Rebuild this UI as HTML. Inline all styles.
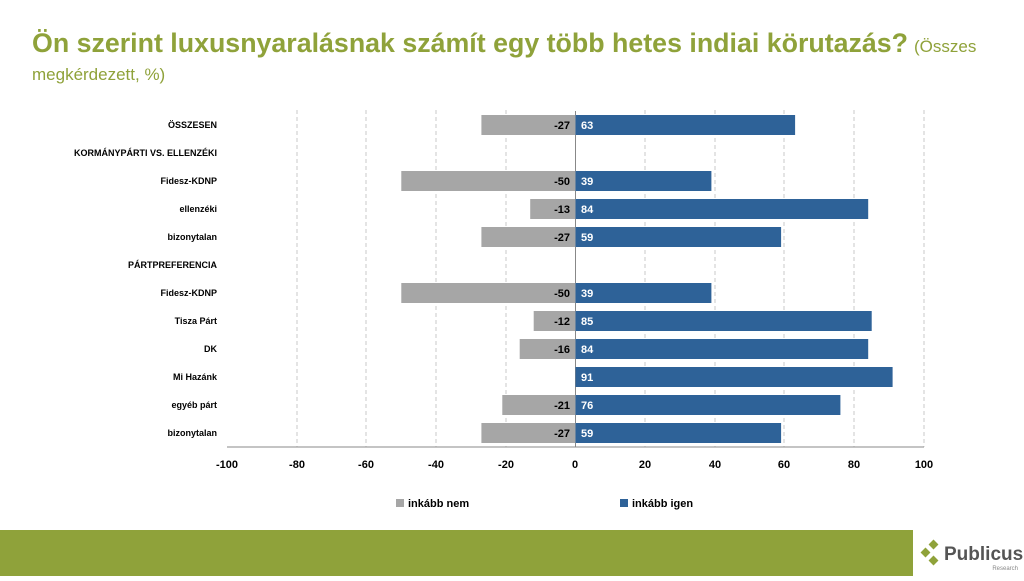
<!DOCTYPE html><html><head><meta charset="utf-8"><style>
body{margin:0;width:1024px;height:576px;background:#fff;overflow:hidden;font-family:"Liberation Sans",sans-serif}
</style></head><body>
<svg width="1024" height="576" xmlns="http://www.w3.org/2000/svg" font-family="Liberation Sans, sans-serif">
<text x="32" y="52" font-size="27" font-weight="bold" fill="#8fa23a" textLength="876" lengthAdjust="spacingAndGlyphs">Ön szerint luxusnyaralásnak számít egy több hetes indiai körutazás?</text>
<text x="914" y="52" font-size="17" fill="#8fa23a">(Összes</text>
<text x="32" y="80" font-size="17" fill="#8fa23a">megkérdezett, %)</text>
<g stroke="#c8c8c8" stroke-dasharray="4,3" stroke-width="1">
<line x1="297" y1="110" x2="297" y2="447"/><line x1="366" y1="110" x2="366" y2="447"/><line x1="436" y1="110" x2="436" y2="447"/><line x1="506" y1="110" x2="506" y2="447"/><line x1="645" y1="110" x2="645" y2="447"/><line x1="715" y1="110" x2="715" y2="447"/><line x1="784" y1="110" x2="784" y2="447"/><line x1="854" y1="110" x2="854" y2="447"/><line x1="924" y1="110" x2="924" y2="447"/>
</g>
<g id="bars"></g>
<line x1="575.5" y1="111" x2="575.5" y2="447" stroke="#888"/>
<line x1="227" y1="447" x2="924" y2="447" stroke="#888"/>
<g font-size="11" font-weight="bold" fill="#000" text-anchor="middle">
<text x="227" y="468">-100</text><text x="297" y="468">-80</text><text x="366" y="468">-60</text><text x="436" y="468">-40</text><text x="506" y="468">-20</text><text x="575" y="468">0</text><text x="645" y="468">20</text><text x="715" y="468">40</text><text x="784" y="468">60</text><text x="854" y="468">80</text><text x="924" y="468">100</text>
</g>
<g font-size="9" font-weight="bold" fill="#000" text-anchor="end">
<text x="217" y="128">ÖSSZESEN</text><text x="217" y="156">KORMÁNYPÁRTI VS. ELLENZÉKI</text><text x="217" y="184">Fidesz-KDNP</text><text x="217" y="212">ellenzéki</text><text x="217" y="240">bizonytalan</text><text x="217" y="268">PÁRTPREFERENCIA</text><text x="217" y="296">Fidesz-KDNP</text><text x="217" y="324">Tisza Párt</text><text x="217" y="352">DK</text><text x="217" y="380">Mi Hazánk</text><text x="217" y="408">egyéb párt</text><text x="217" y="436">bizonytalan</text>
</g>
<g font-size="11" font-weight="bold">
<rect x="481.4" y="115" width="94.1" height="20" fill="#a6a6a6"/><rect x="575.5" y="115" width="219.6" height="20" fill="#2e6298"/><text x="570" y="129" text-anchor="end">-27</text><text x="581" y="129" fill="#fff">63</text>
<rect x="401.3" y="171" width="174.2" height="20" fill="#a6a6a6"/><rect x="575.5" y="171" width="135.9" height="20" fill="#2e6298"/><text x="570" y="185" text-anchor="end">-50</text><text x="581" y="185" fill="#fff">39</text>
<rect x="530.2" y="199" width="45.3" height="20" fill="#a6a6a6"/><rect x="575.5" y="199" width="292.7" height="20" fill="#2e6298"/><text x="570" y="213" text-anchor="end">-13</text><text x="581" y="213" fill="#fff">84</text>
<rect x="481.4" y="227" width="94.1" height="20" fill="#a6a6a6"/><rect x="575.5" y="227" width="205.6" height="20" fill="#2e6298"/><text x="570" y="241" text-anchor="end">-27</text><text x="581" y="241" fill="#fff">59</text>
<rect x="401.3" y="283" width="174.2" height="20" fill="#a6a6a6"/><rect x="575.5" y="283" width="135.9" height="20" fill="#2e6298"/><text x="570" y="297" text-anchor="end">-50</text><text x="581" y="297" fill="#fff">39</text>
<rect x="533.7" y="311" width="41.8" height="20" fill="#a6a6a6"/><rect x="575.5" y="311" width="296.2" height="20" fill="#2e6298"/><text x="570" y="325" text-anchor="end">-12</text><text x="581" y="325" fill="#fff">85</text>
<rect x="519.7" y="339" width="55.8" height="20" fill="#a6a6a6"/><rect x="575.5" y="339" width="292.7" height="20" fill="#2e6298"/><text x="570" y="353" text-anchor="end">-16</text><text x="581" y="353" fill="#fff">84</text>
<rect x="575.5" y="367" width="317.1" height="20" fill="#2e6298"/><text x="581" y="381" fill="#fff">91</text>
<rect x="502.3" y="395" width="73.2" height="20" fill="#a6a6a6"/><rect x="575.5" y="395" width="264.9" height="20" fill="#2e6298"/><text x="570" y="409" text-anchor="end">-21</text><text x="581" y="409" fill="#fff">76</text>
<rect x="481.4" y="423" width="94.1" height="20" fill="#a6a6a6"/><rect x="575.5" y="423" width="205.6" height="20" fill="#2e6298"/><text x="570" y="437" text-anchor="end">-27</text><text x="581" y="437" fill="#fff">59</text>
</g>
<rect x="396" y="499" width="8" height="8" fill="#a6a6a6"/><text x="408" y="507" font-size="11" font-weight="bold">inkább nem</text>
<rect x="620" y="499" width="8" height="8" fill="#2e6298"/><text x="632" y="507" font-size="11" font-weight="bold">inkább igen</text>
<rect x="0" y="530" width="913" height="46" fill="#8fa23a"/>
<g fill="#8fa23a"><rect x="922" y="549" width="7" height="7" transform="rotate(45 925.5 552.5)"/><rect x="930" y="541" width="7" height="7" transform="rotate(45 933.5 544.5)"/><rect x="930" y="557" width="7" height="7" transform="rotate(45 933.5 560.5)"/></g>
<text x="944" y="560" font-size="19" font-weight="bold" fill="#555">Publicus</text>
<text x="1018" y="570" font-size="6" fill="#888" text-anchor="end">Research</text>
</svg>
</body></html>
